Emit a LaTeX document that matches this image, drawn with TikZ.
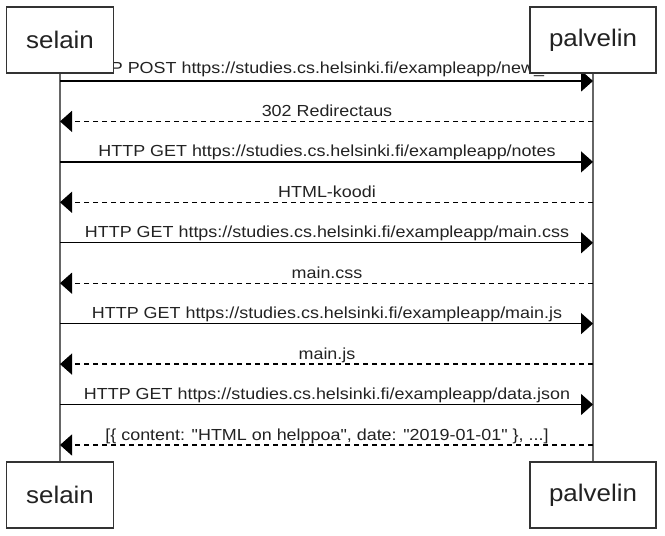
\documentclass[tikz,border=0pt]{standalone}
\usepackage{fontspec}
\setmainfont{Liberation Sans}[Ligatures={TeX,NoCommon}]
\usetikzlibrary{arrows.meta}
\pgfdeclarelayer{bg}
\pgfsetlayers{bg,main}
\definecolor{boxline}{HTML}{333333}
\definecolor{lifeline}{HTML}{666666}
\definecolor{txt}{HTML}{222222}
\newcommand{\lbl}[1]{\scalebox{1.12}[1]{#1}}
\newcommand{\actorlbl}[1]{\scalebox{1.08}[1]{#1}}
\newcommand{\dq}{\textquotedbl}
\tikzset{
  actorbox/.style={draw=boxline, fill=white, line width=1.3pt, minimum height=66pt, inner sep=0pt, text=txt, font=\fontsize{24}{28}\selectfont},
  lifelinestyle/.style={draw=lifeline, line width=1.4pt},
  msglabel/.style={anchor=base, inner sep=0pt, text=txt, font=\fontsize{16}{19}\selectfont},
  req/.style={draw=black, line width=1.3pt, -{Triangle[length=12pt,width=21pt]}},
  resp/.style={req, dash pattern=on 5.5pt off 3.5pt}
}
\begin{document}
\begin{tikzpicture}[x=1pt,y=-1pt]
\useasboundingbox (0,0) rectangle (665,536);
% actors
\node[actorbox, minimum width=107pt] (sTop) at (60,40) {\actorlbl{selain}};
\node[actorbox, minimum width=126pt] (pTop) at (593,40) {\actorlbl{palvelin}};
\node[actorbox, minimum width=107pt] (sBot) at (60,495) {\actorlbl{selain}};
\node[actorbox, minimum width=126pt] (pBot) at (593,495) {\actorlbl{palvelin}};
% message end points on lifelines
\foreach \k/\y in {1/81,2/121.4,3/161.9,4/202.3,5/242.8,6/283.2,7/323.6,8/364.1,9/404.5,10/445}{
  \coordinate (s\k) at (60,\y);
  \coordinate (p\k) at (593,\y);
  \coordinate (m\k) at (327,\y-5);
}
\coordinate (m1) at (327.5,73.8);
\begin{pgfonlayer}{bg}
\draw[lifelinestyle] (sTop.south) -- (sBot.north);
\draw[lifelinestyle] (pTop.south) -- (pBot.north);
\node[msglabel] (l1) at (m1) {\lbl{HTTP POST https://studies.cs.helsinki.fi/exampleapp/new\_note}};
\node[msglabel] (l2) at (m2) {\lbl{302 Redirectaus}};
\node[msglabel] (l3) at (m3) {\lbl{HTTP GET https://studies.cs.helsinki.fi/exampleapp/notes}};
\node[msglabel] (l4) at (m4) {\lbl{HTML-koodi}};
\node[msglabel] (l5) at (m5) {\lbl{HTTP GET https://studies.cs.helsinki.fi/exampleapp/main.css}};
\node[msglabel] (l6) at (m6) {\lbl{main.css}};
\node[msglabel] (l7) at (m7) {\lbl{HTTP GET https://studies.cs.helsinki.fi/exampleapp/main.js}};
\node[msglabel] (l8) at (m8) {\lbl{main.js}};
\node[msglabel] (l9) at (m9) {\lbl{HTTP GET https://studies.cs.helsinki.fi/exampleapp/data.json}};
\node[msglabel] (l10) at (m10) {\lbl{[\{ content: \dq HTML on helppoa\dq, date: \dq 2019-01-01\dq\ \}, ...]}};
\draw[req] (s1) -- (p1);
\draw[resp] (p2) -- (s2);
\draw[req] (s3) -- (p3);
\draw[resp] (p4) -- (s4);
\draw[req] (s5) -- (p5);
\draw[resp] (p6) -- (s6);
\draw[req] (s7) -- (p7);
\draw[resp] (p8) -- (s8);
\draw[req] (s9) -- (p9);
\draw[resp] (p10) -- (s10);
\end{pgfonlayer}
\end{tikzpicture}
\end{document}
